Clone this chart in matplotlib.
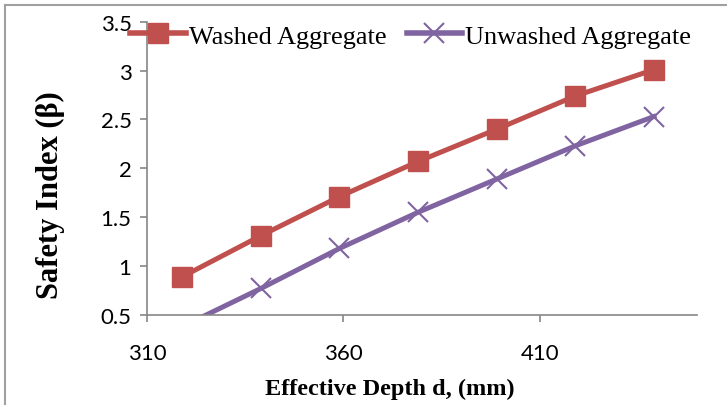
import matplotlib
matplotlib.use('Agg')
import matplotlib.pyplot as plt
from matplotlib.lines import Line2D

# effective depth d (mm) and safety index values
depth = [319, 339, 359, 379, 399, 419, 439]
washed = [0.89, 1.31, 1.71, 2.07, 2.40, 2.74, 3.01]
unwashed = [0.38, 0.77, 1.18, 1.55, 1.89, 2.23, 2.53]
x_ticks = [310, 360, 410]
y_ticks = [0.5, 1, 1.5, 2, 2.5, 3, 3.5]

RED = '#C0504D'
PURPLE = '#8064A2'
SERIF = 'Liberation Serif'
TICKFONT = 'Lato'

fig = plt.figure(figsize=(7.27, 4.06), dpi=100)
ax = fig.add_axes([0.202, 0.222, 0.757, 0.722])

ax.plot(depth, washed, color=RED, lw=3.6, marker='s', ms=14,
        markeredgecolor=RED, label='Washed Aggregate')
ax.plot(depth, unwashed, color=PURPLE, lw=3.6, marker='x', ms=15,
        markeredgewidth=1.5, label='Unwashed Aggregate')

ax.set_xlim(310, 450)
ax.set_ylim(0.5, 3.5)
ax.set_xticks(x_ticks)
ax.set_yticks(y_ticks)
ax.set_yticklabels([('%g' % v) for v in y_ticks])

for s in ['top', 'right']:
    ax.spines[s].set_visible(False)
for s in ['left', 'bottom']:
    ax.spines[s].set_color('#868686')
    ax.spines[s].set_linewidth(1.2)
ax.tick_params(axis='both', colors='#868686', length=5, width=1.2,
               labelsize=16, labelcolor='black', pad=6)
ax.tick_params(axis='x', pad=15)
for lab in ax.get_xticklabels() + ax.get_yticklabels():
    lab.set_fontfamily(TICKFONT)

ax.set_xlabel('Effective Depth d, (mm)', fontfamily=SERIF, fontweight='bold',
              fontsize=17.5)
ax.xaxis.set_label_coords((390 - 147) / 550, -(390 - 316) / 293, transform=ax.transAxes)
ax.xaxis.label.set_va('center')
ax.set_ylabel('Safety Index (\u03b2)', fontfamily=SERIF, fontweight='bold',
              fontsize=22)
ax.yaxis.set_label_coords(-(147 - 51) / 550, (316 - 195) / 293, transform=ax.transAxes)
ax.yaxis.label.set_va('center')

handles = [Line2D([], [], color=RED, lw=4, marker='s', ms=14, markeredgecolor=RED),
           Line2D([], [], color=PURPLE, lw=4, marker='x', ms=15, markeredgewidth=1.5)]
leg = fig.legend(handles, ['Washed Aggregate', 'Unwashed Aggregate'],
                 loc='center', bbox_to_anchor=(0.565, 0.909), ncol=2,
                 frameon=False, prop={'family': SERIF, 'size': 19},
                 handlelength=2.1, handletextpad=0.12, columnspacing=0.76,
                 borderaxespad=0, borderpad=0)

# outer chart border (only top and left visible in the crop)
fig.add_artist(Line2D([5 / 727, 5 / 727], [0, 1 - 6 / 406], color='#A0A0A0', lw=1.5))
fig.add_artist(Line2D([5 / 727, 1], [1 - 6 / 406, 1 - 6 / 406], color='#A0A0A0', lw=1.5))

fig.savefig('out.png', dpi=100)
